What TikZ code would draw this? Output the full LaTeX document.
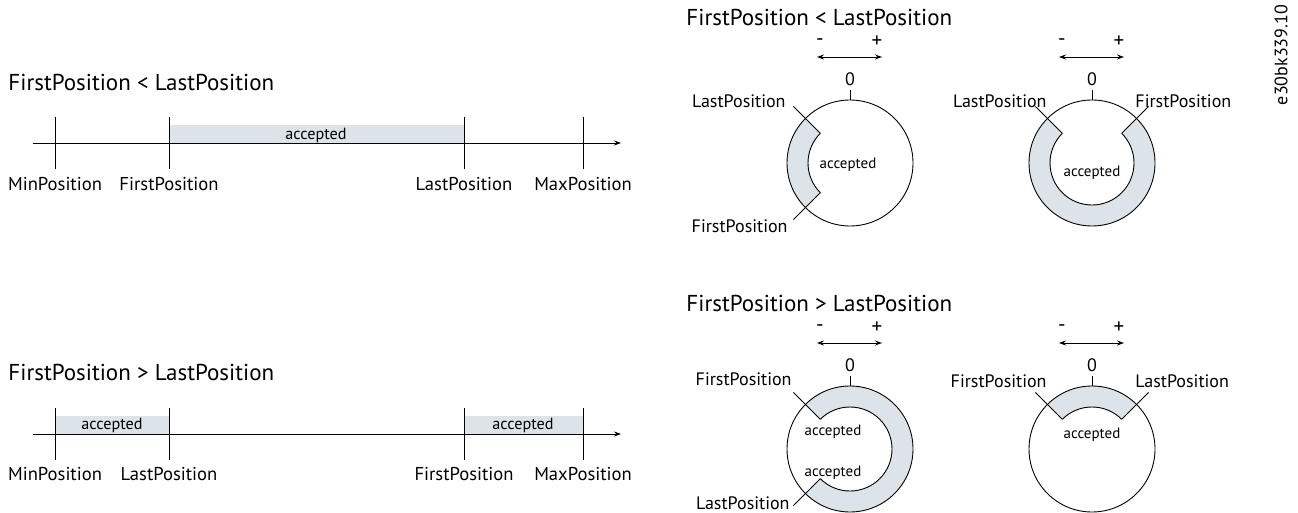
\documentclass[tikz,border=0pt]{standalone}
\usepackage{fontspec}
\setmainfont{PT Sans}
\usetikzlibrary{arrows.meta,calc}
\definecolor{bandfill}{RGB}{221,228,233}
\begin{document}
\begin{tikzpicture}[x=1pt,y=1pt,
  line width=0.9pt,
  title/.style={anchor=west,inner sep=0pt,font=\fontsize{23}{27}\selectfont},
  lbl/.style={inner sep=0pt,font=\fontsize{18.6}{22}\selectfont},
  clbl/.style={inner sep=0pt,font=\fontsize{18}{22}\selectfont},
  sgn/.style={inner sep=0pt,font=\fontsize{21}{24}\selectfont},
  acc/.style={inner sep=0pt,font=\fontsize{16.2}{19}\selectfont},
  cacc/.style={inner sep=0pt,font=\fontsize{15}{18}\selectfont},
  band/.style={fill=bandfill,draw=none},
  axisarrow/.style={-{Stealth[length=7pt,width=5pt]}},
  dirarrow/.style={{Stealth[length=7pt,width=5pt]}-{Stealth[length=7pt,width=5pt]}}
]
\useasboundingbox (0,0) rectangle (1298,-513);

% ---------- left, top ----------
\node[title] (t1) at (8,-82) {FirstPosition < LastPosition};
\fill[band] (169,-125) rectangle (464,-143);
\node[acc] (a1) at (316,-135) {accepted};
\coordinate (ax1s) at (33,-143);
\coordinate (ax1e) at (621,-143);
\draw[axisarrow] (ax1s) -- (ax1e);
\foreach \x/\n/\t in {55/mn/MinPosition,169/fp/FirstPosition,464/lp/LastPosition,583/mx/MaxPosition}{
  \coordinate (u\n top) at (\x,-117);
  \coordinate (u\n bot) at (\x,-169);
  \draw (u\n top) -- (u\n bot);
  \node[lbl] (u\n) at (\x,-184) {\t};
}

% ---------- left, bottom ----------
\node[title] (t2) at (8,-372) {FirstPosition > LastPosition};
\fill[band] (55,-416) rectangle (169,-434);
\fill[band] (464,-416) rectangle (583,-434);
\node[acc] (a2) at (112,-425) {accepted};
\node[acc] (a3) at (523,-425) {accepted};
\coordinate (ax2s) at (33,-434);
\coordinate (ax2e) at (621,-434);
\draw[axisarrow] (ax2s) -- (ax2e);
\foreach \x/\n/\t in {55/mn/MinPosition,169/lp/LastPosition,464/fp/FirstPosition,583/mx/MaxPosition}{
  \coordinate (d\n top) at (\x,-408);
  \coordinate (d\n bot) at (\x,-460);
  \draw (d\n top) -- (d\n bot);
  \node[lbl] (d\n) at (\x,-474) {\t};
}

% ---------- right titles ----------
\node[title] (t3) at (686,-17) {FirstPosition < LastPosition};
\node[title] (t4) at (686,-303) {FirstPosition > LastPosition};
\node[clbl,rotate=90] (wm) at (1281,-55) {e30bk339.10};

% ---------- circles ----------
% #1 name, #2 centre x, #3 centre y, #4 start angle, #5 end angle
\newcommand{\ringdiag}[5]{%
  \coordinate (#1c) at (#2,#3);
  \fill[band] ($(#1c)+(#4:63)$) arc[start angle=#4,end angle=#5,radius=63]
     -- ($(#1c)+(#5:42)$) arc[start angle=#5,end angle=#4,radius=42] -- cycle;
  \draw (#1c) circle[radius=63];
  \draw ($(#1c)+(#4:42)$) arc[start angle=#4,end angle=#5,radius=42];
  \coordinate (#1i1) at ($(#1c)+(#4:42)$);
  \coordinate (#1o1) at ($(#1c)+(#4:80)$);
  \coordinate (#1i2) at ($(#1c)+(#5:42)$);
  \coordinate (#1o2) at ($(#1c)+(#5:80)$);
  \draw (#1i1) -- (#1o1);
  \draw (#1i2) -- (#1o2);
  \coordinate (#1z1) at ($(#1c)+(90:63)$);
  \coordinate (#1z2) at ($(#1c)+(90:73)$);
  \draw (#1z1) -- (#1z2);
  \node[clbl] (#1zero) at ($(#1c)+(0,84)$) {0};
  \coordinate (#1al) at ($(#1c)+(-33,106)$);
  \coordinate (#1ar) at ($(#1c)+(32,106)$);
  \draw[dirarrow] (#1al) -- (#1ar);
  \node[sgn] (#1minus) at ($(#1c)+(-30,121)$) {-};
  \node[sgn] (#1plus) at ($(#1c)+(27,121)$) {+};
}

% circle A: top-left
\ringdiag{A}{850}{-163}{135}{225}
\node[cacc] (Aacc) at (848,-165) {accepted};
\node[clbl,anchor=east] (Alast) at (786,-101) {LastPosition};
\node[clbl,anchor=east] (Afirst) at (788,-226) {FirstPosition};

% circle B: top-right
\ringdiag{B}{1092}{-163}{135}{405}
\node[cacc] (Bacc) at (1092,-173) {accepted};
\node[clbl,anchor=east] (Blast) at (1047,-101) {LastPosition};
\node[clbl,anchor=west] (Bfirst) at (1135,-101) {FirstPosition};

% circle C: bottom-left
\ringdiag{C}{850}{-449}{-135}{135}
\node[cacc] (Cacc1) at (833,-432) {accepted};
\node[cacc] (Cacc2) at (833,-473) {accepted};
\node[clbl,anchor=east] (Cfirst) at (792,-379) {FirstPosition};
\node[clbl,anchor=east] (Clast) at (790,-503) {LastPosition};

% circle D: bottom-right
\ringdiag{D}{1092}{-449}{45}{135}
\node[cacc] (Dacc) at (1092,-435) {accepted};
\node[clbl,anchor=east] (Dfirst) at (1047,-381) {FirstPosition};
\node[clbl,anchor=west] (Dlast) at (1135,-381) {LastPosition};
\end{tikzpicture}
\end{document}
